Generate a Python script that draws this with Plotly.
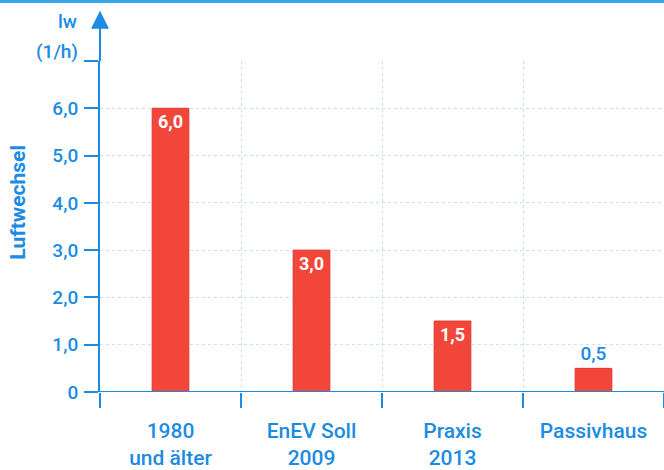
import plotly.graph_objects as go

# Luftwechselraten nach Gebäudestandard
categories = ["1980<br>und älter", "EnEV Soll<br>2009", "Praxis<br>2013", "Passivhaus"]
values = [6.0, 3.0, 1.5, 0.5]
value_labels = ["6,0", "3,0", "1,5", "0,5"]
label_positions = ["inside", "inside", "inside", "outside"]
y_ticks = [0, 1, 2, 3, 4, 5, 6, 7]
y_tick_labels = ["0", "1,0", "2,0", "3,0", "4,0", "5,0", "6,0", ""]

BLUE = "#1c8ce2"
RED = "#f2463a"
GRID = "#c6e2f5"
FONT = "Roboto"

fig = go.Figure()
fig.add_trace(go.Bar(
    x=categories,
    y=values,
    text=value_labels,
    textposition=label_positions,
    insidetextanchor="end",
    constraintext="none",
    cliponaxis=False,
    insidetextfont=dict(family=FONT, size=18, color="white", weight=700),
    outsidetextfont=dict(family=FONT, size=19, color=BLUE, weight=500),
    marker=dict(color=RED, line=dict(color="#e0352c", width=1)),
    width=0.26,
    hoverinfo="skip",
))

fig.update_layout(
    width=664, height=470,
    margin=dict(l=100, r=0, t=61, b=78),
    paper_bgcolor="white",
    plot_bgcolor="white",
    showlegend=False,
    font=dict(family=FONT, color=BLUE),
    xaxis=dict(
        type="category",
        range=[-0.5, 3.5],
        automargin=False,
        tickson="boundaries",
        ticks="outside",
        ticklen=15,
        tickwidth=2,
        tickcolor=BLUE,
        showline=False,
        showgrid=True,
        gridcolor=GRID,
        griddash="dot",
        gridwidth=1,
        tickfont=dict(family=FONT, size=21, color=BLUE, weight=500),
        ticklabelstandoff=24,
        zeroline=False,
    ),
    yaxis=dict(
        range=[0, 7],
        automargin=False,
        tickvals=y_ticks,
        ticktext=y_tick_labels,
        ticks="outside",
        ticklen=14,
        tickwidth=2,
        tickcolor=BLUE,
        showline=True,
        linecolor=BLUE,
        linewidth=2,
        showgrid=True,
        gridcolor=GRID,
        griddash="dot",
        gridwidth=1,
        zeroline=False,
        tickfont=dict(family=FONT, size=19, color=BLUE, weight=500),
        ticklabelstandoff=2,
    ),
)

# horizontal axis line, crossing slightly past the vertical axis
fig.add_shape(type="line", xref="paper", yref="y", x0=-0.027, x1=1.0, y0=0, y1=0,
              line=dict(color=BLUE, width=2))
# vertical axis extended upward to the arrow
fig.add_shape(type="line", xref="paper", yref="paper", x0=0, x1=0, y0=1.0, y1=1.12,
              line=dict(color=BLUE, width=2))
# top edge band
fig.add_shape(type="rect", xref="paper", yref="paper", x0=-0.2, x1=1.0, y0=1.175, y1=1.19,
              line=dict(width=0), fillcolor="#3aa6ea")

# arrow head on the vertical axis
fig.add_annotation(xref="paper", yref="paper", x=0, y=1.152, ax=0, ay=22,
                   axref="pixel", ayref="pixel", text="", showarrow=True,
                   arrowhead=2, arrowsize=1.8, arrowwidth=2, arrowcolor=BLUE)

# unit labels
fig.add_annotation(xref="paper", yref="paper", x=-0.058, y=1.118, text="lw",
                   xanchor="center", yanchor="middle",
                   showarrow=False, font=dict(family=FONT, size=19, color=BLUE, weight=500))
fig.add_annotation(xref="paper", yref="paper", x=-0.076, y=1.03, text="(1/h)",
                   xanchor="center", yanchor="middle",
                   showarrow=False, font=dict(family=FONT, size=19, color=BLUE, weight=500))

# axis title
fig.add_annotation(xref="paper", yref="paper", x=-0.146, y=0.574, text="Luftwechsel",
                   xanchor="center", yanchor="middle",
                   textangle=-90, showarrow=False,
                   font=dict(family=FONT, size=21, color=BLUE, weight=700))

fig.write_html("out.html")
